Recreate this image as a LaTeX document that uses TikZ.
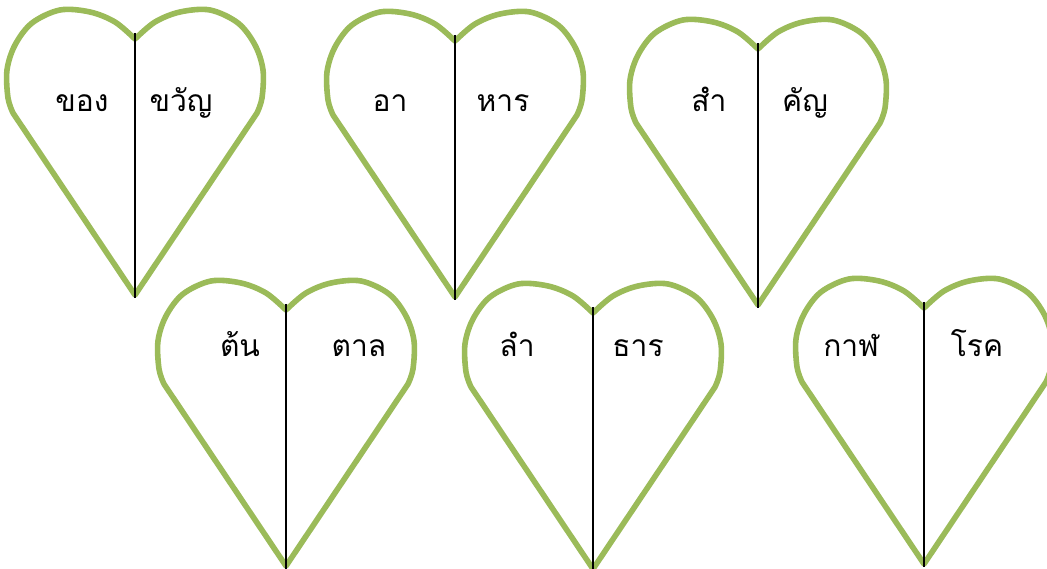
\documentclass[tikz,border=0pt]{standalone}
\usepackage{fontspec}
\newfontfamily\thaifont[Script=Thai]{Loma}
\definecolor{leafgreen}{HTML}{9BBB59}
\tikzset{
  heartline/.style={draw=leafgreen, line width=5.6pt, line join=round},
  midline/.style={draw=black, line width=1.8pt},
  word/.style={font=\thaifont\fontsize{30}{36}\selectfont, anchor=base, inner sep=0pt}
}
\newcommand\drawheart[3]{% name, cx, top
  \begin{scope}[shift={(#2,#3)}]
    \draw[heartline] (0,285)
      -- plot[smooth, tension=0.55] coordinates {(-122,103) (-127,88) (-128,60) (-120,35) (-103,13) (-75,0) (-45,2) (-20,12) (0,29)}
      -- plot[smooth, tension=0.55] coordinates {(0,29) (20,12) (45,2) (75,0) (103,13) (120,35) (128,60) (127,88) (122,103)}
      -- cycle;
    \coordinate (#1-top) at (0,23);
    \coordinate (#1-tip) at (0,288);
    \draw[midline] (#1-top) -- (#1-tip);
  \end{scope}}
\begin{document}
\begin{tikzpicture}[x=1pt, y=-1pt]
  \useasboundingbox (0,0) rectangle (1047,569);
  \clip (0,0) rectangle (1047,569);
  \drawheart{h1}{135}{10}
  \drawheart{h2}{455}{12}
  \drawheart{h3}{758}{20}
  \drawheart{h4}{286}{281}
  \drawheart{h5}{593}{284}
  \drawheart{h6}{924}{279}
  \node[word] (h1l) at (82,112) {ของ};
  \node[word] (h1r) at (181,112) {ขวัญ};
  \node[word] (h2l) at (390,112) {อา};
  \node[word] (h2r) at (503,112) {หาร};
  \node[word] (h3l) at (709,112) {สำ};
  \node[word] (h3r) at (805,112) {คัญ};
  \node[word] (h4l) at (240,356) {ต้น};
  \node[word] (h4r) at (359,356) {ตาล};
  \node[word] (h5l) at (517,356) {ลำ};
  \node[word] (h5r) at (638,356) {ธาร};
  \node[word] (h6l) at (851,356) {กาฬ};
  \node[word] (h6r) at (977,356) {โรค};
\end{tikzpicture}
\end{document}
